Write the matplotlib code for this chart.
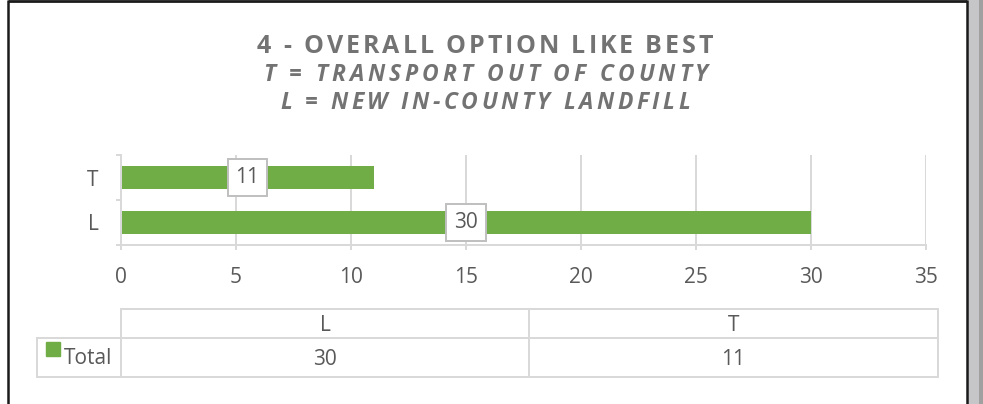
import matplotlib
matplotlib.use('Agg')
import matplotlib.pyplot as plt
from matplotlib.font_manager import FontProperties, findfont, get_font
import numpy as np

# ---- data ----
categories = ['L', 'T']
values = [30, 11]
series_name = 'Total'
x_ticks = [0, 5, 10, 15, 20, 25, 30, 35]
title_lines = ['4 - OVERALL OPTION LIKE BEST',
               'T = TRANSPORT OUT OF COUNTY',
               'L = NEW IN-COUNTY LANDFILL']

W, H, DPI = 983, 404, 100
FONT = 'Open Sans'
GREEN = '#70AD47'
GRID = '#D9D9D9'
TXT = '#595959'
TITLE_C = '#737373'

fig = plt.figure(figsize=(W / DPI, H / DPI), dpi=DPI)
fig.patch.set_facecolor('white')


def px_rect(x0, y0, x1, y1):
    return [x0 / W, 1 - y1 / H, (x1 - x0) / W, (y1 - y0) / H]


# ---- main bar axes ----
ax = fig.add_axes(px_rect(121, 155, 926, 245))
ypos = np.arange(len(categories))
ax.barh(ypos, values, height=0.49, color=GREEN, zorder=2)
ax.set_xlim(0, 35)
ax.set_ylim(-0.5, len(categories) - 0.5)
ax.set_xticks(x_ticks)
ax.set_xticklabels([str(t) for t in x_ticks], fontsize=15, color=TXT, family=FONT)
ax.tick_params(axis='x', length=3.6, width=1.44, color=GRID, pad=12)
ax.grid(axis='x', color=GRID, lw=1.44)
ax.set_axisbelow(True)
ax.set_yticks(np.arange(-0.5, len(categories), 1.0))
ax.set_yticklabels([])
ax.set_yticks(ypos, minor=True)
ax.set_yticklabels(categories, minor=True, fontsize=15, color=TXT, family=FONT)
ax.tick_params(axis='y', which='major', length=3.6, width=1.44, color=GRID)
ax.tick_params(axis='y', which='minor', length=0, pad=16)
for s in ['top', 'right']:
    ax.spines[s].set_visible(False)
for s in ['left', 'bottom']:
    ax.spines[s].set_color(GRID)
    ax.spines[s].set_linewidth(1.44)

for yi, v in zip(ypos, values):
    ax.text(v / 2, yi, str(v), ha='center', va='center', fontsize=15, color=TXT,
            family=FONT, zorder=5,
            bbox=dict(boxstyle='square,pad=0.38', fc='white', ec='#BFBFBF', lw=1.4))

# ---- overlay in pixel coordinates ----
ov = fig.add_axes([0, 0, 1, 1], zorder=10)
ov.set_xlim(0, W)
ov.set_ylim(H, 0)
ov.axis('off')


def spaced(s, cx, baseline, target_w, fp, color):
    font = get_font(findfont(fp))
    font.set_size(fp.get_size_in_points(), DPI)
    advs = [font.load_char(ord(c)).linearHoriAdvance / 65536 for c in s]
    sp = (target_w - sum(advs)) / (len(s) - 1)
    x = cx - target_w / 2
    for c, a in zip(s, advs):
        ov.text(x + a / 2, baseline, c, ha='center', va='baseline',
                fontproperties=fp, color=color)
        x += a + sp


fp1 = FontProperties(family=FONT, weight='bold', size=18)
fp2 = FontProperties(family=FONT, weight='bold', style='italic', size=16.5)
spaced(title_lines[0], 485, 53, 456, fp1, TITLE_C)
spaced(title_lines[1], 485.5, 81, 445, fp2, TITLE_C)
spaced(title_lines[2], 485, 109, 410, fp2, TITLE_C)

# ---- data table ----
lw_t = 1.44
tx0, tx1, tx2, tx3 = 37, 121, 529, 938
ty0, ty1, ty2 = 309, 338, 377
ov.plot([tx1, tx3], [ty0, ty0], color=GRID, lw=lw_t)
ov.plot([tx0, tx3], [ty1, ty1], color=GRID, lw=lw_t)
ov.plot([tx0, tx3], [ty2, ty2], color=GRID, lw=lw_t)
ov.plot([tx0, tx0], [ty1, ty2], color=GRID, lw=lw_t)
for xx in (tx1, tx2, tx3):
    ov.plot([xx, xx], [ty0, ty2], color=GRID, lw=lw_t)

col_centers = [(tx1 + tx2) / 2, (tx2 + tx3) / 2]
for cx, cat, v in zip(col_centers, categories, values):
    ov.text(cx, 331, cat, ha='center', va='baseline', fontsize=15, color=TXT, family=FONT)
    ov.text(cx, 365, str(v), ha='center', va='baseline', fontsize=15, color=TXT, family=FONT)
ov.add_patch(plt.Rectangle((46, 342), 14, 14, color=GREEN))
ov.text(64, 364, series_name, ha='left', va='baseline', fontsize=15, color=TXT, family=FONT)

# ---- outer frame and side strip ----
ov.plot([8, 8], [0, H], color='#1a1a1a', lw=1.8, solid_capstyle='butt')
ov.plot([8, 967], [1.2, 1.2], color='#1a1a1a', lw=2.0, solid_capstyle='butt')
ov.plot([967, 967], [0, H], color='#1a1a1a', lw=1.8, solid_capstyle='butt')
ov.add_patch(plt.Rectangle((968.3, 0), 10.7, H, color='#C6C6C8', lw=0))
ov.add_patch(plt.Rectangle((979, 0), 4, H, color='#A0A0A0', lw=0))

fig.savefig('out.png', dpi=DPI, facecolor='white')
